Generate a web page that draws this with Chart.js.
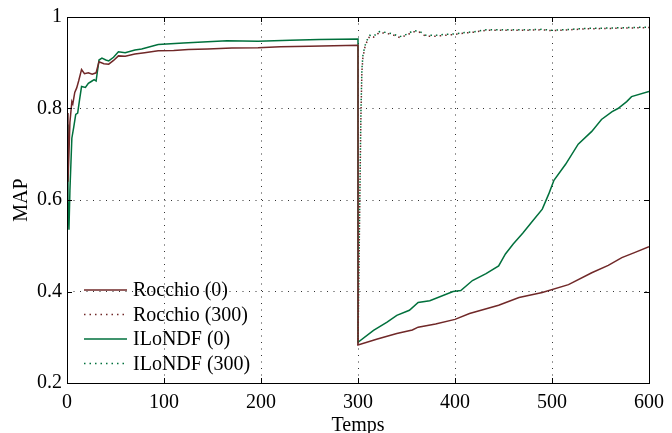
<!DOCTYPE html>
<html>
<head>
<meta charset="utf-8">
<script src="https://cdn.jsdelivr.net/npm/chart.js@4.4.1/dist/chart.umd.min.js"></script>
<style>
  html, body { margin: 0; padding: 0; background: #fff; }
</style>
</head>
<body>
<canvas id="mapChart" width="672" height="433"></canvas>
<script>
// tick labels
const xTicks = [0, 100, 200, 300, 400, 500, 600];
const yTicks = [0.2, 0.4, 0.6, 0.8, 1];

// Rocchio (0)
const rocchio0X = [0, 1, 2, 3, 5, 6, 8, 10, 12, 15, 18, 22, 26, 30, 33, 38, 43, 48, 53, 60, 70, 80, 94, 110, 125, 145, 170, 197, 220, 250, 275, 300,
  300, 320, 340, 356, 362, 380, 400, 415, 445, 466, 490, 517, 541, 558, 572, 585, 600];
const rocchio0Y = [0.79, 0.64, 0.70, 0.77, 0.815, 0.81, 0.835, 0.845, 0.86, 0.885, 0.876, 0.878, 0.875, 0.878, 0.902, 0.898, 0.897, 0.905, 0.915, 0.914, 0.919, 0.922, 0.926, 0.927, 0.929, 0.930, 0.932, 0.933, 0.935, 0.936, 0.937, 0.938,
  0.283, 0.296, 0.308, 0.316, 0.322, 0.329, 0.339, 0.352, 0.370, 0.387, 0.398, 0.415, 0.441, 0.457, 0.474, 0.485, 0.498];

// ILoNDF (0)
const ilondf0X = [0, 1, 2, 3, 5, 7, 9, 11, 13, 15, 19, 22, 25, 28, 30, 33, 36, 40, 43, 48, 53, 60, 70, 77, 94, 120, 145, 165, 197, 230, 260, 300,
  300, 316, 330, 340, 353, 362, 374, 398, 406, 418, 432, 445, 452, 460, 470, 480, 490, 497, 502, 514, 527, 541, 551, 562, 568, 577, 582, 600];
const ilondf0Y = [0.765, 0.60, 0.535, 0.62, 0.735, 0.76, 0.787, 0.79, 0.82, 0.848, 0.846, 0.855, 0.859, 0.863, 0.86, 0.906, 0.91, 0.906, 0.904, 0.912, 0.924, 0.922, 0.928, 0.93, 0.94, 0.943, 0.946, 0.948, 0.947, 0.949, 0.951, 0.952,
  0.289, 0.315, 0.333, 0.348, 0.359, 0.376, 0.38, 0.40, 0.402, 0.424, 0.439, 0.456, 0.482, 0.504, 0.528, 0.554, 0.58, 0.615, 0.643, 0.678, 0.722, 0.75, 0.776, 0.793, 0.80, 0.815, 0.826, 0.837];

// Rocchio (300) and ILoNDF (300), starting at 300
const run300X = [300, 301, 302, 303, 304, 305, 307, 309, 312, 316, 322, 330, 336, 343, 350, 357, 363, 370, 380, 390, 400, 410, 420, 432, 450, 470, 490, 500, 510, 534, 560, 580, 600];
const rocchio300Y = [0.283, 0.45, 0.62, 0.78, 0.88, 0.91, 0.933, 0.945, 0.958, 0.956, 0.966, 0.964, 0.961, 0.955, 0.96, 0.968, 0.967, 0.958, 0.958, 0.96, 0.962, 0.965, 0.967, 0.971, 0.971, 0.971, 0.972, 0.97, 0.971, 0.974, 0.975, 0.976, 0.977];
const ilondf300Y = [0.289, 0.46, 0.63, 0.79, 0.885, 0.915, 0.936, 0.948, 0.96, 0.958, 0.968, 0.966, 0.963, 0.957, 0.962, 0.97, 0.969, 0.96, 0.96, 0.962, 0.963, 0.966, 0.968, 0.972, 0.972, 0.972, 0.973, 0.971, 0.972, 0.975, 0.976, 0.977, 0.978];

const RED = 'rgb(112, 40, 40)';
const GREEN = 'rgb(0, 112, 60)';
const FONT = "'Liberation Serif', 'Times New Roman', serif";

function pts(xs, ys) {
    return xs.map((x, i) => ({ x: x, y: ys[i] }));
}

// box around the plot + inward tick marks (matlab style)
const frame = {
    id: 'frame',
    afterDatasetsDraw(chart) {
        const ctx = chart.ctx;
        const a = chart.chartArea;
        const xs = chart.scales.x, ys = chart.scales.y;
        ctx.save();
        ctx.strokeStyle = '#000';
        ctx.lineWidth = 1;
        ctx.strokeRect(a.left + 0.5, a.top + 0.5, a.right - a.left, a.bottom - a.top);
        ctx.beginPath();
        xTicks.forEach(v => {
            const px = Math.round(xs.getPixelForValue(v)) + 0.5;
            ctx.moveTo(px, a.bottom); ctx.lineTo(px, a.bottom - 5);
            ctx.moveTo(px, a.top); ctx.lineTo(px, a.top + 5);
        });
        yTicks.forEach(v => {
            const py = Math.round(ys.getPixelForValue(v)) + 0.5;
            ctx.moveTo(a.left, py); ctx.lineTo(a.left + 5, py);
            ctx.moveTo(a.right, py); ctx.lineTo(a.right - 5, py);
        });
        ctx.stroke();
        ctx.restore();
    }
};

// legend drawn inside the plot, lower left
const insideLegend = {
    id: 'insideLegend',
    afterDraw(chart) {
        const ctx = chart.ctx;
        const a = chart.chartArea;
        ctx.save();
        ctx.font = '20px ' + FONT;
        ctx.textBaseline = 'middle';
        ctx.fillStyle = '#000';
        chart.data.datasets.forEach((ds, i) => {
            const y = a.top + 273 + i * 24.5;
            ctx.beginPath();
            ctx.strokeStyle = ds.borderColor;
            ctx.lineWidth = ds.borderWidth;
            ctx.setLineDash(ds.borderDash || []);
            ctx.moveTo(a.left + 17, y);
            ctx.lineTo(a.left + 60, y);
            ctx.stroke();
            ctx.setLineDash([]);
            ctx.fillText(ds.label, a.left + 66, y + 1);
        });
        ctx.restore();
    }
};

document.addEventListener('DOMContentLoaded', function () {
    const ctx = document.getElementById('mapChart').getContext('2d');
    new Chart(ctx, {
        type: 'scatter',
        data: {
            datasets: [
                { label: 'Rocchio (0)', data: pts(rocchio0X, rocchio0Y), borderColor: RED, borderWidth: 1.5, showLine: true, pointRadius: 0 },
                { label: 'Rocchio (300)', data: pts(run300X, rocchio300Y), borderColor: RED, borderWidth: 1.5, borderDash: [1.5, 4], showLine: true, pointRadius: 0 },
                { label: 'ILoNDF (0)', data: pts(ilondf0X, ilondf0Y), borderColor: GREEN, borderWidth: 1.5, showLine: true, pointRadius: 0 },
                { label: 'ILoNDF (300)', data: pts(run300X, ilondf300Y), borderColor: GREEN, borderWidth: 1.5, borderDash: [1.5, 4], showLine: true, pointRadius: 0 }
            ]
        },
        options: {
            responsive: false,
            animation: false,
            layout: { padding: { top: 15, right: 18, left: 0, bottom: 0 } },
            plugins: { legend: { display: false }, tooltip: { enabled: false } },
            scales: {
                x: {
                    type: 'linear', min: 0, max: 600,
                    afterBuildTicks: s => { s.ticks = xTicks.map(v => ({ value: v })); },
                    afterFit: s => { s.height = 50; },
                    grid: { color: '#333', lineWidth: 1, drawTicks: false },
                    border: { display: false, dash: [1, 5.5] },
                    ticks: { color: '#000', font: { family: FONT, size: 20 }, padding: 8, maxRotation: 0 },
                    title: { display: true, text: 'Temps', color: '#000', font: { family: FONT, size: 20 }, padding: { top: 0, bottom: -5 } }
                },
                y: {
                    type: 'linear', min: 0.2, max: 1,
                    afterBuildTicks: s => { s.ticks = yTicks.map(v => ({ value: v })); },
                    afterFit: s => { s.width = 67; },
                    grid: { color: '#333', lineWidth: 1, drawTicks: false },
                    border: { display: false, dash: [1, 5.5] },
                    ticks: { color: '#000', font: { family: FONT, size: 20 }, padding: 5, callback: v => String(+v.toFixed(1)) },
                    title: { display: true, text: 'MAP', color: '#000', font: { family: FONT, size: 20 }, padding: { top: 10, bottom: 0 } }
                }
            }
        },
        plugins: [frame, insideLegend]
    });
});
</script>
</body>
</html>
